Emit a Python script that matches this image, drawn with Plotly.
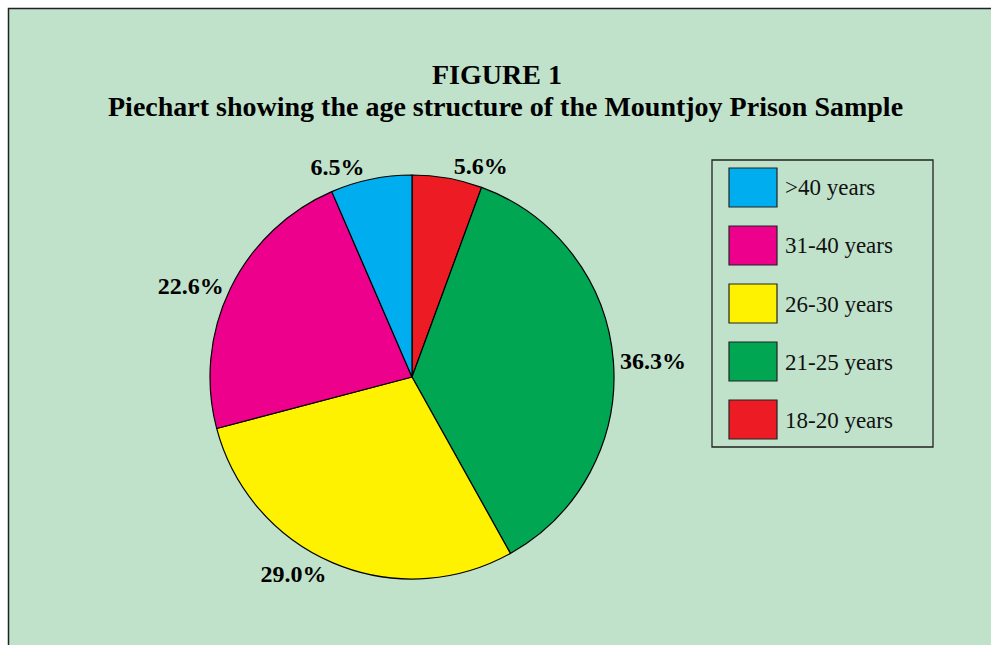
import plotly.graph_objects as go

W, H = 991, 645

# Data (slice order clockwise from 12 o'clock)
labels = ["18-20 years", "21-25 years", "26-30 years", "31-40 years", ">40 years"]
values = [5.6, 36.3, 29.0, 22.6, 6.5]
colors = ["#ED1C24", "#00A651", "#FFF200", "#EC008C", "#00AEEF"]

# Legend order as in the reference
legend_labels = [">40 years", "31-40 years", "26-30 years", "21-25 years", "18-20 years"]

title_lines = ["FIGURE 1", "Piechart showing the age structure of the Mountjoy Prison Sample"]

BG = "#C0E2CA"
SERIF = "Liberation Serif, Times New Roman, serif"


def px(x):
    return x / W


def py(y):
    return 1 - y / H


cx, cy, r = 412, 377, 202

fig = go.Figure(go.Pie(
    labels=labels,
    values=values,
    marker=dict(colors=colors, line=dict(color="black", width=1.2)),
    sort=False,
    direction="clockwise",
    rotation=0,
    textposition="outside",
    texttemplate="%{value:.1f}%",
    textfont=dict(family=SERIF, size=24, color="black", weight="bold"),
    showlegend=False,
    hoverinfo="label+value",
    domain=dict(x=[px(cx - r), px(cx + r)], y=[py(cy + r), py(cy - r)]),
))

shapes = [
    dict(type="rect", xref="paper", yref="paper", x0=px(8.5), x1=1.2, y0=-0.2, y1=py(8.5),
         fillcolor=BG, line=dict(color="#222222", width=1.5), layer="below"),
    dict(type="rect", xref="paper", yref="paper", x0=px(712), x1=px(933), y0=py(447), y1=py(160),
         fillcolor="rgba(0,0,0,0)", line=dict(color="#222222", width=1.3), layer="above"),
]
annotations = [
    dict(text=title_lines[0], x=px(497), y=py(74), xref="paper", yref="paper",
         xanchor="center", yanchor="middle",
         showarrow=False, font=dict(family=SERIF, size=28, color="black", weight="bold")),
    dict(text=title_lines[1], x=px(505), y=py(107), xref="paper", yref="paper",
         xanchor="center", yanchor="middle",
         showarrow=False, font=dict(family=SERIF, size=28, color="black", weight="bold")),
]

color_of = dict(zip(labels, colors))
for i, lab in enumerate(legend_labels):
    top = 168 + 58 * i
    shapes.append(dict(type="rect", xref="paper", yref="paper",
                       x0=px(729), x1=px(777), y0=py(top + 39), y1=py(top),
                       fillcolor=color_of[lab], line=dict(color="#222222", width=1.2)))
    annotations.append(dict(text=lab, x=px(783), y=py(top + 20), xref="paper", yref="paper",
                            xanchor="left", yanchor="middle", showarrow=False,
                            font=dict(family=SERIF, size=23, color="#111111")))

fig.update_layout(
    width=W, height=H,
    margin=dict(l=0, r=0, t=0, b=0),
    paper_bgcolor="white",
    plot_bgcolor="white",
    shapes=shapes,
    annotations=annotations,
)

fig.write_html(
    "out.html",
    config={"displayModeBar": False},
    post_script="document.body.style.margin='0';document.body.style.overflow='hidden';",
)
